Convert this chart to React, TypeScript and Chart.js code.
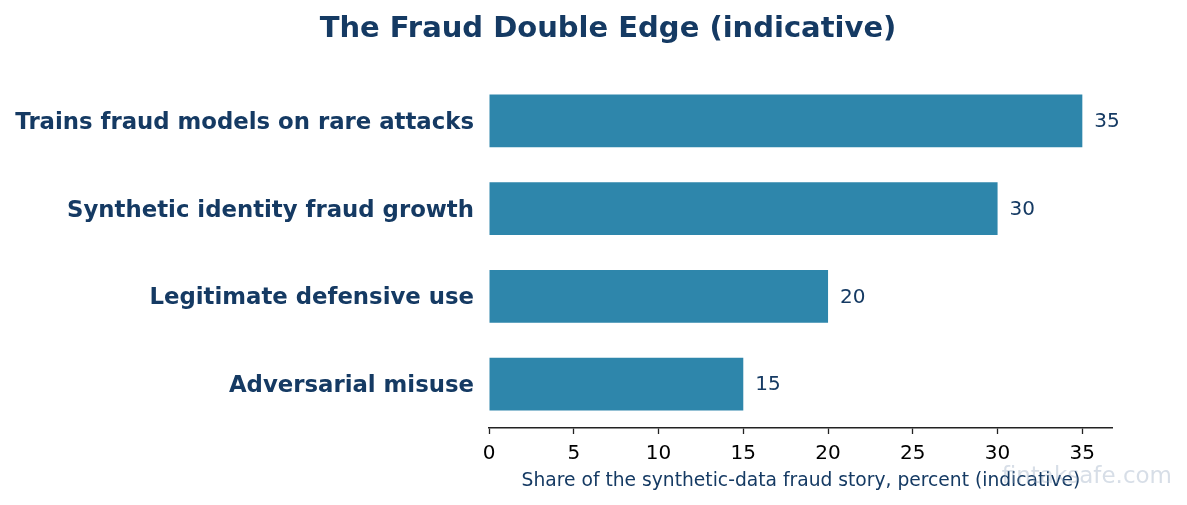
import React, { useEffect, useRef } from "react";
import { Chart, registerables } from "chart.js";

Chart.register(...registerables);

const categories = [
  "Trains fraud models on rare attacks",
  "Synthetic identity fraud growth",
  "Legitimate defensive use",
  "Adversarial misuse",
];
const values = [35, 30, 20, 15];
const xTicks = [0, 5, 10, 15, 20, 25, 30, 35];
const xMax = 36.75;

const NAVY = "#153A63";
const BAR = "#2E86AB";
const FONT = "'DejaVu Sans', sans-serif";

const overlay = {
  id: "overlay",
  afterDatasetsDraw(chart: any) {
    const { ctx } = chart;
    const meta = chart.getDatasetMeta(0);
    ctx.save();
    ctx.fillStyle = NAVY;
    ctx.font = `20px ${FONT}`;
    ctx.textAlign = "left";
    ctx.textBaseline = "middle";
    meta.data.forEach((bar: any, i: number) => {
      ctx.fillText(String(values[i]), bar.x + 12, bar.y + 1);
    });
    // title
    ctx.font = `bold 29px ${FONT}`;
    ctx.textAlign = "center";
    ctx.textBaseline = "middle";
    ctx.fillText("The Fraud Double Edge (indicative)", 608, 29);
    // x title
    ctx.font = `18.7px ${FONT}`;
    ctx.fillText(
      "Share of the synthetic-data fraud story, percent (indicative)",
      801,
      481
    );
    // watermark
    ctx.fillStyle = "rgba(140,160,185,0.35)";
    ctx.font = `23px ${FONT}`;
    ctx.textAlign = "right";
    ctx.fillText("fintaksafe.com", 1172, 477);
    ctx.restore();
  },
};

export default function App() {
  const ref = useRef<HTMLCanvasElement>(null);
  useEffect(() => {
    document.body.style.margin = "0";
    const chart = new Chart(ref.current!, {
      type: "bar",
      data: {
        labels: categories,
        datasets: [
          {
            data: values,
            backgroundColor: BAR,
            barPercentage: 0.6,
            categoryPercentage: 1,
          },
        ],
      },
      options: {
        indexAxis: "y",
        animation: false,
        responsive: false,
        devicePixelRatio: 1,
        layout: { padding: { top: 77, right: 75, bottom: 0, left: 0 } },
        plugins: { legend: { display: false }, tooltip: { enabled: false }, title: { display: false } },
        scales: {
          x: {
            min: 0,
            max: xMax,
            afterBuildTicks: (s: any) => {
              s.ticks = xTicks.map((v) => ({ value: v }));
            },
            afterFit: (s: any) => {
              s.height = 77;
            },
            grid: {
              display: true,
              drawOnChartArea: false,
              drawTicks: true,
              tickLength: 6,
              tickColor: "#222",
              tickWidth: 1.3,
            },
            border: { display: true, color: "#222", width: 1.5 },
            ticks: { color: "#000", font: { family: FONT, size: 20 }, padding: 8, maxRotation: 0 },
          },
          y: {
            afterFit: (s: any) => {
              s.width = 489;
            },
            grid: { display: false, drawTicks: false },
            border: { display: false },
            ticks: {
              color: NAVY,
              font: { family: FONT, size: 22.8, weight: "bold" },
              padding: 15,
              labelOffset: 2,
            },
          },
        },
      },
      plugins: [overlay],
    });
    return () => chart.destroy();
  }, []);
  return (
    <div style={{ width: 1187, height: 505 }}>
      <canvas ref={ref} width={1187} height={505} style={{ display: "block" }} />
    </div>
  );
}
